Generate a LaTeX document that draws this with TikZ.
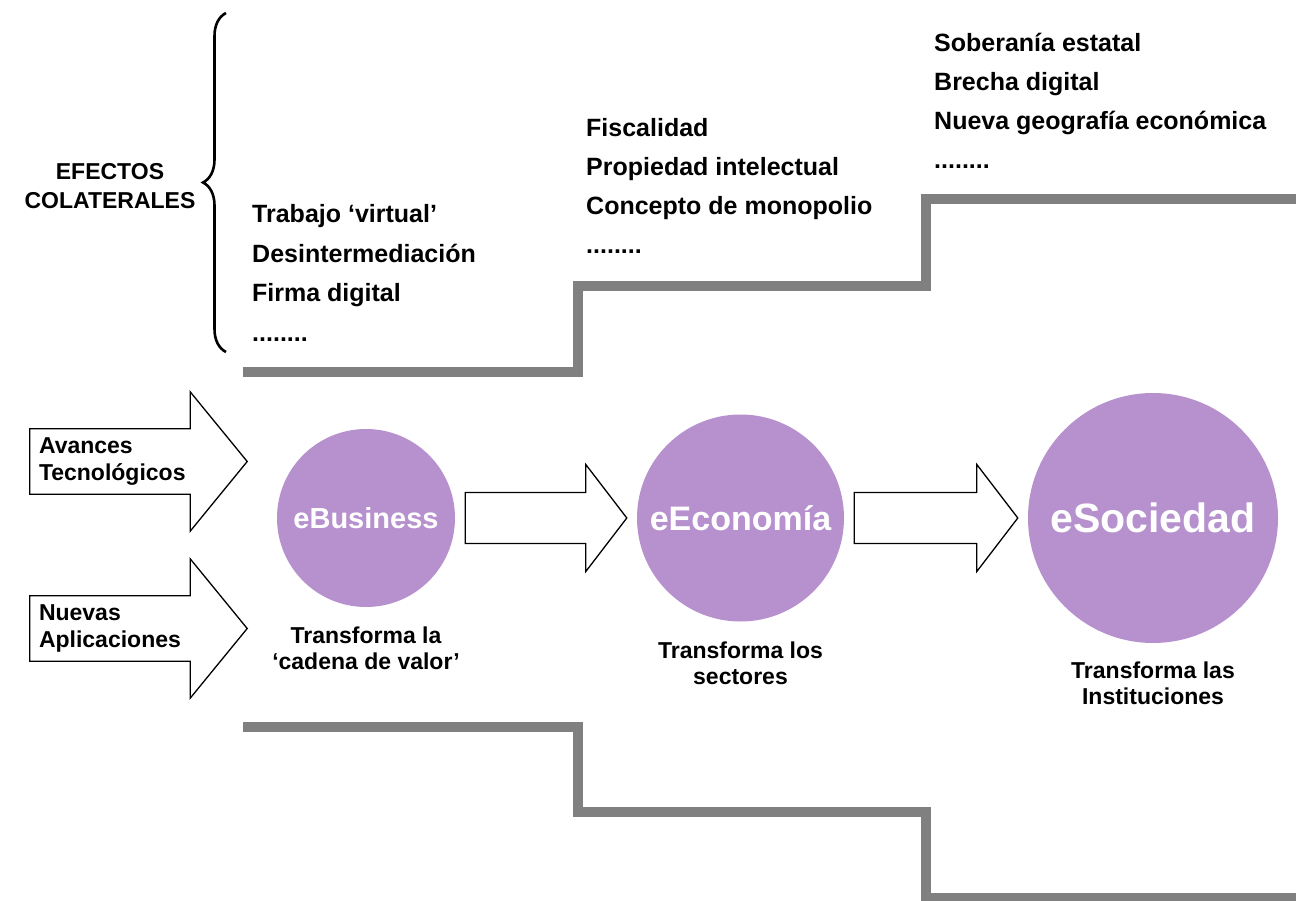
\documentclass[tikz,border=0pt]{standalone}
\usepackage{fontspec}
\setmainfont{Liberation Sans}
\usepackage{tikz}
\usetikzlibrary{positioning,calc,decorations.pathreplacing}

\definecolor{lila}{RGB}{182,145,206}
\definecolor{stairgray}{RGB}{128,128,128}

\newcommand{\etcdots}{........}

\tikzset{
	bubble/.style={circle, fill=lila, text=white, inner sep=0pt},
	effect/.style={anchor=base west, inner sep=0pt, font=\fontsize{25}{30}\selectfont\bfseries},
	caption/.style={align=center, inner sep=0pt, font=\fontsize{23}{26}\selectfont\bfseries},
	inputbox/.style={minimum height=65pt, text width=142pt, inner xsep=9pt, inner ysep=0pt,
		align=left, font=\fontsize{23}{27}\selectfont\bfseries},
	fatline/.style={draw=black, line width=1.3pt, line join=miter},
	stair/.style={draw=stairgray, line width=9.5pt, line join=miter},
}

% fat block arrow between two bubbles
\newcommand{\fatarrow}[2]{%
	\draw[fatline] ($(#1.east)+(10pt,25.5pt)$) -- ($(#2.west)+(-51pt,25.5pt)$)
		-- ($(#2.west)+(-51pt,53.5pt)$) -- ($(#2.west)+(-10pt,0pt)$)
		-- ($(#2.west)+(-51pt,-53.5pt)$) -- ($(#2.west)+(-51pt,-25.5pt)$)
		-- ($(#1.east)+(10pt,-25.5pt)$) -- cycle;}

\begin{document}
\begin{tikzpicture}[x=1pt, y=-1pt]
	\useasboundingbox (0,0) rectangle (1296,901);

	% stairs
	\draw[stair] (243,372) -- (578,372) -- (578,286) -- (926,286) -- (926,199) -- (1300,199);
	\draw[stair] (243,727) -- (578,727) -- (578,812) -- (926,812) -- (926,898) -- (1300,898);

	% bubbles
	\node[bubble, minimum size=178pt, font=\fontsize{29}{34}\selectfont\bfseries] (bus) at (366,518) {eBusiness};
	\node[bubble, minimum size=207pt, font=\fontsize{34}{40}\selectfont\bfseries] (eco) at (740.5,518) {eEconomía};
	\node[bubble, minimum size=250pt, font=\fontsize{41}{48}\selectfont\bfseries] (soc) at (1153,518) {eSociedad};

	\node[caption, below=19pt of bus] (buscap) {Transforma la\\‘cadena de valor’};
	\node[caption, below=20pt of eco] (ecocap) {Transforma los\\sectores};
	\node[caption, below=18.5pt of soc] (soccap) {Transforma las\\Instituciones};

	\fatarrow{bus}{eco}
	\fatarrow{eco}{soc}

	% inputs
	\node[inputbox] (avances) at (110,461.5) {Avances\\Tecnológicos};
	\node[inputbox] (nuevas) at (110,628.5) {Nuevas\\Aplicaciones};
	\foreach \n in {avances, nuevas}
		\draw[fatline] (\n.north west) -- (\n.north east) -- ([yshift=37pt]\n.north east)
			-- ([xshift=57pt]\n.east) -- ([yshift=-37pt]\n.south east) -- (\n.south east)
			-- (\n.south west) -- cycle;

	% side effects
	\node[caption, font=\fontsize{23}{29}\selectfont\bfseries] (efectos) at (110,186.5) {EFECTOS\\COLATERALES};
	\draw[line width=2.6pt, decorate, decoration={brace, amplitude=23pt}] (226,352) -- (226,13);

	\foreach \txt [count=\i] in {Trabajo ‘virtual’, Desintermediación, Firma digital, \etcdots}
		\node[effect] (biz\i) at (252,{223+39.5*(\i-1)}) {\txt};
	\foreach \txt [count=\i] in {Fiscalidad, Propiedad intelectual, Concepto de monopolio, \etcdots}
		\node[effect] (eco\i) at (586,{137+38.7*(\i-1)}) {\txt};
	\foreach \txt [count=\i] in {Soberanía estatal, Brecha digital, Nueva geografía económica, \etcdots}
		\node[effect] (soc\i) at (934,{52+38.7*(\i-1)}) {\txt};
\end{tikzpicture}
\end{document}
